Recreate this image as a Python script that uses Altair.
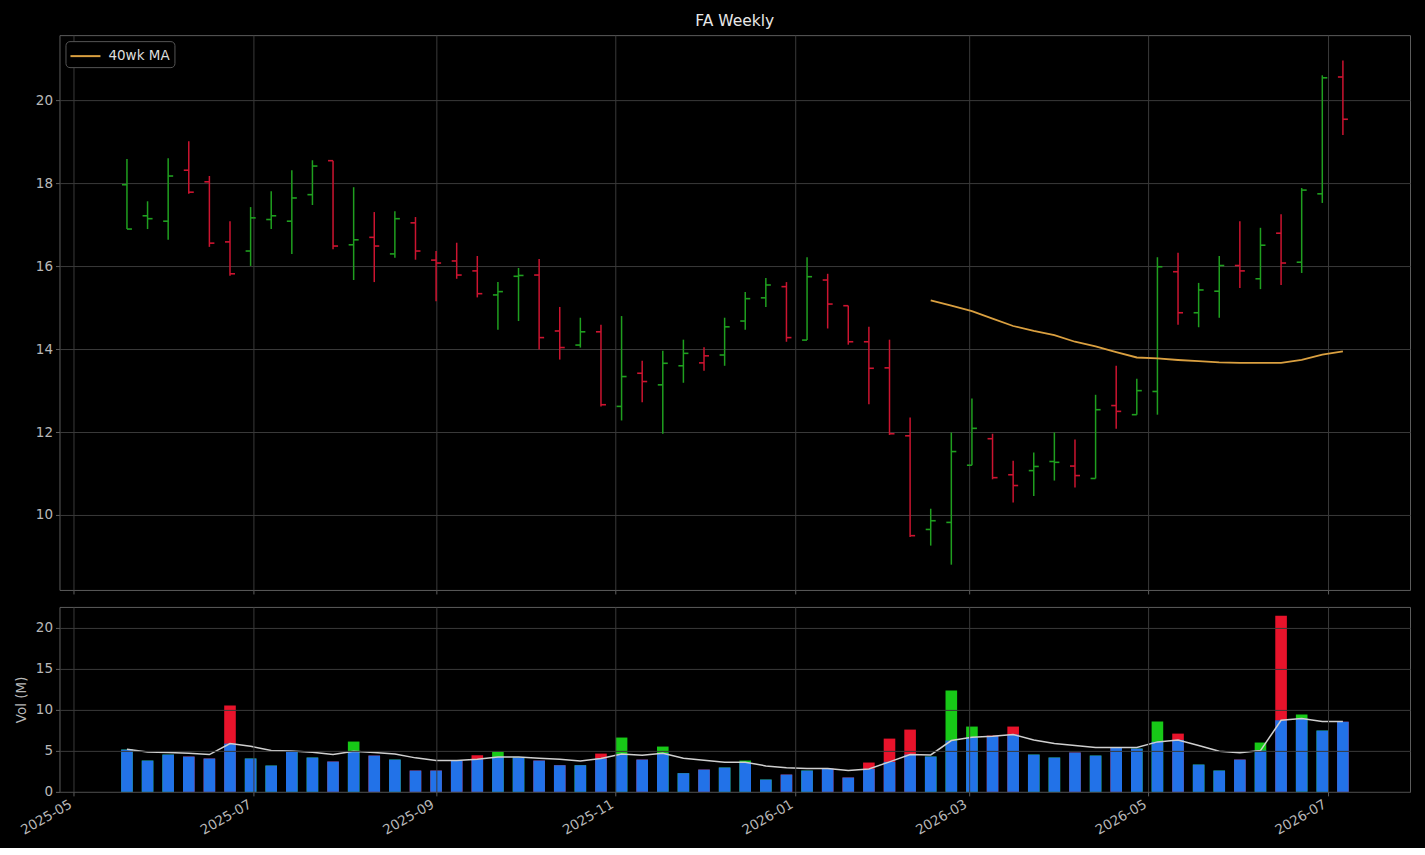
import altair as alt
import pandas as pd

dates = [
    "2025-05-19", "2025-05-26", "2025-06-02", "2025-06-09", "2025-06-16", "2025-06-23", "2025-06-30",
    "2025-07-07", "2025-07-14", "2025-07-21", "2025-07-28", "2025-08-04", "2025-08-11", "2025-08-18",
    "2025-08-25", "2025-09-01", "2025-09-08", "2025-09-15", "2025-09-22", "2025-09-29", "2025-10-06",
    "2025-10-13", "2025-10-20", "2025-10-27", "2025-11-03", "2025-11-10", "2025-11-17", "2025-11-24",
    "2025-12-01", "2025-12-08", "2025-12-15", "2025-12-22", "2025-12-29", "2026-01-05", "2026-01-12",
    "2026-01-19", "2026-01-26", "2026-02-02", "2026-02-09", "2026-02-16", "2026-02-23", "2026-03-02",
    "2026-03-09", "2026-03-16", "2026-03-23", "2026-03-30", "2026-04-06", "2026-04-13", "2026-04-20",
    "2026-04-27", "2026-05-04", "2026-05-11", "2026-05-18", "2026-05-25", "2026-06-01", "2026-06-08",
    "2026-06-15", "2026-06-22", "2026-06-29", "2026-07-06",
]

opens = [17.97, 17.22, 17.09, 18.32, 18.04, 16.59, 16.37, 17.13, 17.09, 17.73,
         18.55, 16.52, 16.70, 16.30, 17.05, 16.15, 16.13, 15.89, 15.31, 15.76,
         15.79, 14.44, 14.10, 14.42, 12.62, 13.42, 13.14, 13.60, 13.67, 13.86,
         14.68, 15.24, 15.51, 14.22, 15.67, 15.05, 14.18, 13.55, 11.91, 9.65,
         9.82, 11.20, 11.84, 10.97, 11.07, 11.29, 11.18, 10.88, 12.64, 12.42,
         12.98, 15.87, 14.88, 15.40, 16.02, 15.70, 16.80, 16.10, 17.75, 20.57]
highs = [18.59, 17.57, 18.61, 19.02, 18.18, 17.09, 17.43, 17.81, 18.32, 18.56,
         18.55, 17.91, 17.31, 17.33, 17.19, 16.37, 16.57, 16.25, 15.62, 15.96,
         16.18, 15.02, 14.76, 14.59, 14.80, 13.72, 13.96, 14.23, 14.05, 14.76,
         15.38, 15.72, 15.62, 16.22, 15.82, 15.05, 14.54, 14.23, 12.35, 10.15,
         11.99, 12.81, 11.96, 11.31, 11.51, 11.99, 11.82, 12.90, 13.60, 13.29,
         16.22, 16.33, 15.60, 16.25, 17.09, 16.93, 17.26, 17.89, 20.61, 20.97]
lows = [16.90, 16.90, 16.64, 17.75, 16.47, 15.77, 16.01, 16.90, 16.30, 17.48,
        16.41, 15.67, 15.62, 16.21, 16.16, 15.16, 15.70, 15.25, 14.47, 14.68,
        13.99, 13.75, 14.04, 12.62, 12.28, 12.72, 11.96, 13.19, 13.48, 13.60,
        14.47, 15.02, 14.18, 14.22, 14.50, 14.11, 12.67, 11.93, 9.47, 9.26,
        8.80, 11.20, 10.86, 10.30, 10.46, 10.83, 10.66, 10.88, 12.08, 12.42,
        12.42, 14.59, 14.53, 14.76, 15.48, 15.45, 15.55, 15.84, 17.53, 19.17]
closes = [16.90, 17.15, 18.18, 17.79, 16.56, 15.82, 17.17, 17.22, 17.65, 18.42,
          16.49, 16.64, 16.49, 17.15, 16.37, 16.08, 15.79, 15.34, 15.39, 15.78,
          14.28, 14.04, 14.42, 12.66, 13.34, 13.22, 13.66, 13.90, 13.84, 14.54,
          15.22, 15.55, 14.28, 15.75, 15.09, 14.18, 13.54, 11.96, 9.50, 9.86,
          11.53, 12.09, 10.90, 10.71, 11.17, 11.27, 10.95, 12.54, 12.50, 13.00,
          15.99, 14.88, 15.43, 16.02, 15.89, 16.51, 16.08, 17.84, 20.55, 19.55]
direction = ["up", "up", "up", "down", "down", "down", "up", "up", "up", "up",
             "down", "up", "down", "up", "down", "down", "down", "down", "up", "up",
             "down", "down", "up", "down", "up", "down", "up", "up", "down", "up",
             "up", "up", "down", "up", "down", "down", "down", "down", "down", "up",
             "up", "up", "down", "down", "up", "up", "down", "up", "down", "up",
             "up", "down", "up", "up", "down", "up", "down", "up", "up", "down"]
ma40 = [None] * 39 + [15.18, 15.05, 14.92, 14.74, 14.56, 14.44, 14.34, 14.18, 14.07, 13.93,
                      13.80, 13.78, 13.74, 13.71, 13.68, 13.67, 13.67, 13.67, 13.74, 13.87, 13.95]
volume = [5.16, 3.82, 4.55, 4.31, 4.07, 10.53, 4.07, 3.21, 4.98, 4.19,
          3.70, 6.14, 4.43, 3.94, 2.60, 2.60, 3.80, 4.47, 4.92, 4.19,
          3.82, 3.25, 3.25, 4.67, 6.63, 3.94, 5.53, 2.28, 2.72, 2.97,
          3.82, 1.50, 2.11, 2.60, 2.83, 1.75, 3.58, 6.50, 7.60, 4.31,
          12.36, 7.97, 6.87, 7.97, 4.55, 4.19, 4.80, 4.43, 5.40, 5.28,
          8.58, 7.11, 3.33, 2.60, 3.94, 6.02, 21.50, 9.43, 7.48, 8.56]
vol_ma = [5.20, 4.88, 4.80, 4.72, 4.55, 5.89, 5.57, 5.04, 5.00, 4.84,
          4.55, 4.96, 4.80, 4.63, 4.15, 3.82, 3.82, 3.98, 4.27, 4.27,
          4.11, 3.98, 3.78, 4.07, 4.63, 4.47, 4.72, 4.11, 3.85, 3.62,
          3.62, 3.17, 2.93, 2.85, 2.85, 2.60, 2.80, 3.66, 4.55, 4.51,
          6.26, 6.67, 6.79, 6.99, 6.34, 5.89, 5.65, 5.41, 5.42, 5.41,
          6.10, 6.34, 5.65, 4.96, 4.76, 5.04, 8.74, 8.94, 8.58, 8.58]

month_ticks = [(2025, 5), (2025, 7), (2025, 9), (2025, 11), (2026, 1), (2026, 3), (2026, 5), (2026, 7)]

df = pd.DataFrame({
    "date": [d + "T00:00:00" for d in dates],
    "open": opens, "high": highs, "low": lows, "close": closes,
    "dir": direction, "ma40": ma40, "vol": volume, "vma": vol_ma,
})
df["series"] = "40wk MA"

FONT = "DejaVu Sans"
GRID = "#3a3a3a"
FRAME = "#5c5c5c"
LABEL = "#b8b8b8"
UP_P, DN_P = "#1f9f1f", "#cc1430"
UP_V, DN_V, BLUE = "#17c817", "#e8132b", "#2272e8"

tick_vals = [alt.DateTime(year=y, month=m, date=1) for y, m in month_ticks]
xscale = alt.Scale(domain=[alt.DateTime(year=2025, month=4, date=26, hours=2),
                           alt.DateTime(year=2026, month=7, date=28, hours=19)])

W = 1351

x_main = alt.X("date:T", scale=xscale, title=None,
               axis=alt.Axis(values=tick_vals, labels=False, ticks=True, tickSize=4,
                             tickColor=FRAME, domain=False, grid=True, gridColor=GRID))
price_col = alt.condition("datum.dir == 'up'", alt.value(UP_P), alt.value(DN_P))
yscale = alt.Scale(domain=[8.19, 21.58], nice=False, zero=False)
y_axis = alt.Axis(values=[10, 12, 14, 16, 18, 20], tickSize=4, tickColor=FRAME, domain=False,
                  gridColor=GRID, labelColor=LABEL, labelFontSize=13.5, labelFont=FONT,
                  labelPadding=3)

base = alt.Chart(df)
hl = base.mark_rule(strokeWidth=1.5).encode(
    x=x_main, y=alt.Y("low:Q", scale=yscale, axis=y_axis, title=None),
    y2="high:Q", color=price_col)
op = base.mark_rule(strokeWidth=1.6, xOffset=-5, x2Offset=0).encode(
    x="date:T", x2="date:T", y="open:Q", color=price_col)
cl = base.mark_rule(strokeWidth=1.6, xOffset=0, x2Offset=5).encode(
    x="date:T", x2="date:T", y="close:Q", color=price_col)
ma = base.transform_filter("isValid(datum.ma40)").mark_line(strokeWidth=1.8).encode(
    x="date:T", y="ma40:Q",
    color=alt.Color("series:N", scale=alt.Scale(domain=["40wk MA"], range=["#daa040"]),
                    legend=alt.Legend(title=None, orient="top-left", offset=6, padding=4,
                                      symbolType="M-1,0H2", symbolSize=400, symbolStrokeWidth=2,
                                      labelColor="#dddddd", labelFontSize=13.5, labelFont=FONT,
                                      labelOffset=17, strokeColor="#555555", fillColor="#000000",
                                      cornerRadius=4)))
price = alt.layer(hl, op, cl, ma).properties(width=W, height=555)

x_vol = alt.X("date:T", scale=xscale, title=None,
              axis=alt.Axis(values=tick_vals, format="%Y-%m", labelAngle=-30, labelAlign="right",
                            labelBaseline="top", labelColor=LABEL, labelFontSize=13.5, labelFont=FONT,
                            tickSize=4, tickColor=FRAME, domain=False, gridColor=GRID,
                            labelPadding=1, labelOffset=-7, zindex=1))
vol_axis = alt.Axis(values=[0, 5, 10, 15, 20], tickSize=4, tickColor=FRAME, domain=False,
                    gridColor=GRID, labelColor=LABEL, labelFontSize=13.5, labelFont=FONT,
                    labelPadding=3, titleColor=LABEL, titleFont=FONT, titleFontSize=13.5,
                    titleFontWeight="normal", titlePadding=7, zindex=1)
vscale = alt.Scale(domain=[0, 22.57], nice=False, zero=True)
vcol = alt.condition("datum.dir == 'up'", alt.value(UP_V), alt.value(DN_V))
vbase = alt.Chart(df).transform_calculate(blue="min(datum.vol, datum.vma)")
vfull = vbase.mark_rect(xOffset=-5.8, x2Offset=5.8).encode(
    x=x_vol, x2="date:T", y=alt.Y("vol:Q", scale=vscale, axis=vol_axis, title="Vol (M)"),
    y2=alt.datum(0), color=vcol)
vblue = vbase.mark_rect(xOffset=-5.8, x2Offset=5.8, color=BLUE).encode(
    x="date:T", x2="date:T", y="blue:Q", y2=alt.datum(0))
vline = vbase.mark_line(color="#cfcfcf", strokeWidth=1.5).encode(x="date:T", y="vma:Q")
vol = alt.layer(vfull, vblue, vline).properties(width=W, height=185)

chart = alt.vconcat(price, vol, spacing=11).properties(
    background="#000000",
    padding={"left": 13.5, "top": 14, "right": 14, "bottom": 10},
    title=alt.TitleParams("FA Weekly", color="#e8e8e8", fontSize=15.5, font=FONT,
                          fontWeight="normal", anchor="middle", frame="group", offset=5),
).configure_view(stroke=FRAME, strokeWidth=1).configure_concat(spacing=11)

chart.save("out.html", embed_options={"renderer": "svg", "actions": False})
